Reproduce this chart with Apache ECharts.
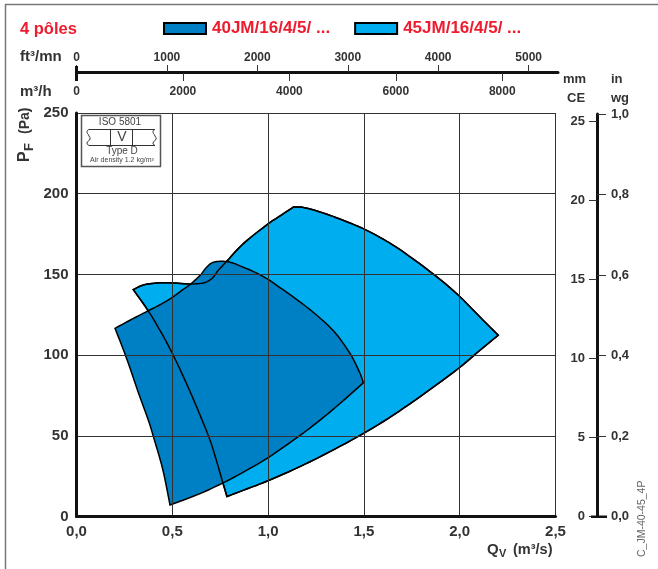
<!DOCTYPE html>
<html><head><meta charset="utf-8">
<style>html,body{margin:0;padding:0;background:#fff}#c{width:658px;height:569px}</style>
<script src="https://cdn.jsdelivr.net/npm/echarts@6/dist/echarts.min.js"></script>
</head><body><div id="c"></div>
<script>
const name40 = '40JM/16/4/5/ ...';
const name45 = '45JM/16/4/5/ ...';
const q40 = [.201,.279,.375,.436,.498,.551,.592,.645,.680,.714,.766,.812,.853,.921,.993,1.078,1.166,1.245,1.323,1.375,1.436,1.48,1.497,1.375,1.271,1.158,.996,.853,.763,.645,.488,.451,.404,.375,.323,.261];
const p40 = [116.6,121.6,127.5,131.2,135.6,140.2,143.7,149.4,154.6,157.5,158.1,157.2,155.3,151.9,147.4,140.5,133,125.6,117.3,110.1,99.3,88.6,82.8,70,59.7,49.5,36.2,26.3,20.7,14.2,7.1,28.8,48.4,59.7,76.7,98.1];
const corners40 = [0,22,30];
const q45 = [.296,.349,.419,.498,.592,.662,.706,.740,.784,.871,.993,1.045,1.132,1.184,1.271,1.375,1.494,1.601,1.706,1.871,1.993,2.106,2.201,2.106,1.993,1.828,1.653,1.494,1.323,1.166,.996,.888,.785,.763,.728,.693,.627,.566,.505,.445,.375];
const p45 = [140.6,143.4,144.7,144.7,144.1,144.7,147.4,152.5,158.1,169.1,180.7,184.9,191.7,191.5,188.7,184.3,178.5,171.8,163.9,149.4,137.1,123.6,112.3,103,91.7,77.2,62.8,51.2,40.2,30.9,22,17,12.4,21.3,35.6,48.6,67.9,84.5,99.9,113.4,127.3];
const corners45 = [0,12,22,32];
const ftTicks = [0,1000,2000,3000,4000,5000];
const m3hTicks = [0,2000,4000,6000,8000];

const DARK='#0080C4', LIGHT='#00AEEF', RED='#ED1C2E', TXT='#333', LINE='#111';
const SANS='"Liberation Sans",sans-serif';
const chart = echarts.init(document.getElementById('c'),null,{renderer:'canvas'});
const comma=(d)=>v=>v.toFixed(d).replace('.',',');

// Draws the outline through the read points as a closed curve, keeping the corners sharp.
function curve(pts,corners){
  const n=pts.length,out=[],isC=i=>corners.indexOf(i)>=0;
  for(let i=0;i<n;i++){
    const j=(i+1)%n,p1=pts[i],p2=pts[j];
    const p0=isC(i)?p1:pts[(i-1+n)%n],p3=isC(j)?p2:pts[(j+1)%n];
    for(let s=0;s<6;s++){
      const t=s/6,t2=t*t,t3=t2*t;
      out.push([0,1].map(k=>0.5*(2*p1[k]+(p2[k]-p0[k])*t+(2*p0[k]-5*p1[k]+4*p2[k]-p3[k])*t2+(3*p1[k]-p0[k]-3*p2[k]+p3[k])*t3)));
    }
  }
  return out;
}
function poly(qs,ps,corners,fill){
  return function(params,api){
    if(params.dataIndex!==0) return null;
    return {type:'polygon',shape:{points:curve(qs.map((q,i)=>api.coord([q,ps[i]])),corners)},
      style:{fill:fill,stroke:'#000',lineWidth:1.5,lineJoin:'miter'}};
  };
}
function series(name,qs,ps,corners,fill,z){
  return {type:'custom',name:name,xAxisIndex:0,yAxisIndex:0,z:z,clip:false,silent:true,
    itemStyle:{color:fill==='none'?LIGHT:fill,borderColor:'#000',borderWidth:1},
    data:qs.map((q,i)=>[q,ps[i]]),renderItem:poly(qs,ps,corners,fill),animation:false};
}
const tick=(x,y,s,o)=>({type:'text',z:50,x,y,style:Object.assign({text:s,fill:TXT,font:'bold 13px '+SANS,align:'left',verticalAlign:'middle'},o||{})});
const ln=(x1,y1,x2,y2,w,c)=>({type:'line',z:50,shape:{x1,y1,x2,y2},style:{stroke:c||'#444',lineWidth:w||1}});
const squiggle=(x)=>({type:'polyline',z:61,shape:{points:[[x,129.5],[x-2,131.5],[x,136],[x+1,139],[x-2,143],[x,145.5]],smooth:0.6},style:{fill:'none',stroke:'#333',lineWidth:1}});

chart.setOption({
  animation:false,
  backgroundColor:'#fff',
  textStyle:{fontFamily:SANS},
  legend:{left:163,top:20,padding:0,itemWidth:42,itemHeight:11,itemGap:24,icon:'rect',selectedMode:false,
    data:[name40,name45],
    textStyle:{color:RED,fontWeight:'bold',fontSize:17,fontFamily:SANS,padding:[0,0,0,1]}},
  grid:[
    {left:76.5,top:113,width:479,height:403.5},
    {left:76.5,top:72,width:481.5,height:1},
    {left:76.5,top:121,width:520.5,height:395.5},
    {left:76.5,top:114,width:520.5,height:402.5}
  ],
  xAxis:[
    {gridIndex:0,type:'value',min:0,max:2.5,interval:.5,z:4,
      axisLine:{onZero:false,lineStyle:{color:LINE,width:3}},axisTick:{show:false},
      axisLabel:{color:TXT,fontWeight:'bold',fontSize:15,fontFamily:SANS,margin:8,formatter:comma(1),hideOverlap:false},
      splitLine:{show:true,lineStyle:{color:'#333',width:1}}},
    {gridIndex:1,type:'value',position:'top',min:0,max:481.5/191.6*2118.88,interval:1000,
      axisLine:{onZero:false,lineStyle:{color:LINE,width:3}},axisTick:{show:true,length:7,lineStyle:{color:'#333',width:1},customValues:ftTicks},
      axisLabel:{color:TXT,fontWeight:'bold',fontSize:12,fontFamily:SANS,margin:8,customValues:ftTicks,formatter:v=>String(v)},splitLine:{show:false}},
    {gridIndex:1,type:'value',position:'bottom',min:0,max:481.5/191.6*3600,interval:2000,
      axisLine:{show:false},axisTick:{show:true,length:8,lineStyle:{color:'#333',width:1},customValues:m3hTicks},
      axisLabel:{color:TXT,fontWeight:'bold',fontSize:12,fontFamily:SANS,margin:13,customValues:m3hTicks,formatter:v=>String(v)},splitLine:{show:false}},
    {gridIndex:2,type:'value',show:false,min:0,max:1},
    {gridIndex:3,type:'value',show:false,min:0,max:1}
  ],
  yAxis:[
    {gridIndex:0,type:'value',min:0,max:250,interval:50,z:4,
      axisLine:{show:true,onZero:false,lineStyle:{color:LINE,width:3}},axisTick:{show:false},
      axisLabel:{color:TXT,fontWeight:'bold',fontSize:15,fontFamily:SANS,margin:8},
      splitLine:{show:true,lineStyle:{color:'#333',width:1}}},
    {gridIndex:1,type:'value',show:false,min:0,max:1},
    {gridIndex:2,type:'value',position:'right',min:0,max:25,interval:5,
      axisLine:{show:false,onZero:false},axisTick:{show:true,inside:true,length:8,lineStyle:{color:'#333',width:1}},
      axisLabel:{inside:true,color:TXT,fontWeight:'bold',fontSize:13,fontFamily:SANS,margin:12},splitLine:{show:false}},
    {gridIndex:3,type:'value',position:'right',min:0,max:1,interval:.2,
      axisLine:{show:true,onZero:false,lineStyle:{color:LINE,width:3}},axisTick:{show:true,length:9,lineStyle:{color:'#333',width:1}},
      axisLabel:{color:TXT,fontWeight:'bold',fontSize:13,fontFamily:SANS,margin:14,formatter:comma(1)},splitLine:{show:false}}
  ],
  series:[
    series(name45,q45,p45,corners45,LIGHT,1),
    series(name40,q40,p40,corners40,DARK,2),
    series('outline45',q45,p45,corners45,'none',3)
  ],
  graphic:{elements:[
    ln(5.5,4,5.5,569,1.5,'#777'),ln(5,4.5,658,4.5,1.5,'#777'),
    {type:'text',z:50,x:20,y:29,style:{text:'4 pôles',fill:RED,font:'bold 16.5px '+SANS,verticalAlign:'middle'}},
    tick(20,57,'ft³/mn',{font:'bold 15px '+SANS}),
    tick(20,92,'m³/h',{font:'bold 15px '+SANS}),
    {type:'rect',z:50,shape:{x:75,y:66,width:3,height:15},style:{fill:LINE}},
    {type:'rect',z:50,shape:{x:591,y:515.5,width:16,height:2.5},style:{fill:LINE}},
    tick(563,79,'mm'),tick(567,98,'CE'),tick(611,79,'in'),tick(611,98,'wg'),
    {type:'text',z:50,x:25,y:162,rotation:Math.PI/2,style:{text:'P',fill:TXT,font:'bold 16px '+SANS,verticalAlign:'middle',align:'left'}},
    {type:'text',z:50,x:29,y:151,rotation:Math.PI/2,style:{text:'F',fill:TXT,font:'bold 13px '+SANS,verticalAlign:'middle',align:'left'}},
    {type:'text',z:50,x:25,y:134,rotation:Math.PI/2,style:{text:'(Pa)',fill:TXT,font:'bold 14px '+SANS,verticalAlign:'middle',align:'left'}},
    {type:'text',z:50,x:487,y:550,style:{text:'Q',fill:TXT,font:'bold 15px '+SANS,verticalAlign:'middle'}},
    {type:'text',z:50,x:499,y:554,style:{text:'V',fill:TXT,font:'bold 11px '+SANS,verticalAlign:'middle'}},
    {type:'text',z:50,x:513,y:550,style:{text:'(m³/s)',fill:TXT,font:'bold 14.5px '+SANS,verticalAlign:'middle'}},
    {type:'text',z:50,x:642,y:557,rotation:Math.PI/2,style:{text:'C_JM-40-45_4P',fill:'#666',font:'10.5px '+SANS,verticalAlign:'middle',align:'left'}},
    {type:'rect',z:60,shape:{x:81.5,y:115.5,width:79,height:51},style:{fill:'#fff',stroke:'#555',lineWidth:1.5}},
    {type:'text',z:61,x:120,y:122.5,style:{text:'ISO 5801',fill:'#444',font:'10px '+SANS,align:'center',verticalAlign:'middle'}},
    {type:'text',z:61,x:122,y:137,style:{text:'V',fill:'#444',font:'14px '+SANS,align:'center',verticalAlign:'middle'}},
    {type:'text',z:61,x:122,y:151.5,style:{text:'Type D',fill:'#444',font:'10px '+SANS,align:'center',verticalAlign:'middle'}},
    {type:'text',z:61,x:122,y:160,style:{text:'Air density 1.2 kg/m³',fill:'#444',font:'7px '+SANS,align:'center',verticalAlign:'middle'}},
    Object.assign(ln(89,129.5,155,129.5,1,'#333'),{z:61}),Object.assign(ln(89,145.5,155,145.5,1,'#333'),{z:61}),
    Object.assign(ln(110.5,129.5,110.5,145.5,1,'#333'),{z:61}),Object.assign(ln(132.5,129.5,132.5,145.5,1,'#333'),{z:61}),
    squiggle(89),squiggle(155)
  ]}
});
</script></body></html>
